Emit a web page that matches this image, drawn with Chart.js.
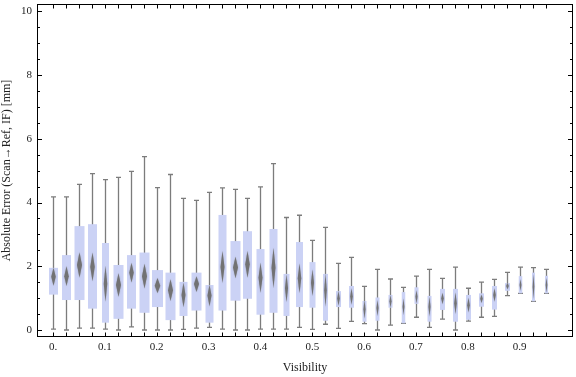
<!DOCTYPE html>
<html>
<head>
<meta charset="utf-8">
<script src="https://cdn.jsdelivr.net/npm/chart.js@4.4.1/dist/chart.umd.min.js"></script>
<style>
  html, body { margin: 0; padding: 0; background: #fff; }
</style>
</head>
<body>
<canvas id="boxChart" width="576" height="377"></canvas>
<script>
// Visibility bins (box centres)
const visibility = [0, 0.025, 0.05, 0.075, 0.1, 0.125, 0.15, 0.175, 0.2, 0.225,
    0.25, 0.275, 0.3, 0.325, 0.35, 0.375, 0.4, 0.425, 0.45, 0.475,
    0.5, 0.525, 0.55, 0.575, 0.6, 0.625, 0.65, 0.675, 0.7, 0.725,
    0.75, 0.775, 0.8, 0.825, 0.85, 0.875, 0.9, 0.925, 0.95];

// Box-whisker statistics (mm)
const whiskerLow = [0.03, 0.00, 0.06, 0.06, 0.03, 0.00, 0.10, 0.00, 0.00, 0.00,
    0.02, 0.06, 0.08, 0.03, 0.00, 0.00, 0.03, 0.03, 0.03, 0.08,
    0.02, 0.18, 0.05, 0.27, 0.20, 0.00, 0.15, 0.21, 0.40, 0.08,
    0.34, 0.00, 0.28, 0.40, 0.43, 1.08, 1.15, 0.90, 1.15];
const quartile1 = [1.11, 0.94, 0.94, 0.67, 0.23, 0.35, 0.67, 0.54, 0.72, 0.31,
    0.44, 0.61, 0.23, 0.61, 0.92, 0.98, 0.48, 0.54, 0.44, 0.72,
    0.70, 0.29, 0.72, 0.70, 0.26, 0.29, 0.70, 0.21, 0.82, 0.26,
    0.63, 0.26, 0.32, 0.73, 0.64, 1.23, 1.15, 0.90, 1.15];
const medians = [1.67, 1.69, 2.04, 1.98, 1.45, 1.41, 1.80, 1.69, 1.39, 1.25,
    1.10, 1.44, 1.08, 1.98, 1.96, 2.06, 1.64, 1.95, 1.31, 1.62,
    1.48, 1.25, 0.99, 1.05, 0.65, 0.69, 0.90, 0.73, 1.04, 0.73,
    0.99, 0.84, 0.78, 0.98, 1.10, 1.38, 1.41, 1.36, 1.41];
const quartile3 = [1.95, 2.35, 3.26, 3.32, 2.73, 2.04, 2.35, 2.43, 1.88, 1.80,
    1.51, 1.80, 1.41, 3.61, 2.79, 3.10, 2.54, 3.17, 1.76, 2.76,
    2.13, 1.76, 1.22, 1.38, 0.91, 1.02, 1.10, 1.19, 1.34, 1.07,
    1.29, 1.29, 1.10, 1.15, 1.38, 1.47, 1.69, 1.80, 1.70];
const whiskerHigh = [4.18, 4.18, 4.57, 4.91, 4.72, 4.79, 4.98, 5.44, 4.47, 4.88,
    4.13, 4.07, 4.32, 4.46, 4.41, 4.13, 4.49, 5.22, 3.53, 3.60,
    2.81, 3.22, 2.09, 2.28, 1.37, 1.90, 1.60, 1.34, 1.69, 1.90,
    1.62, 1.97, 1.31, 1.50, 1.59, 1.81, 1.97, 1.96, 1.90];
// half-height of the median confidence diamond (mm)
const medianCI = [0.28, 0.31, 0.40, 0.45, 0.56, 0.37, 0.31, 0.39, 0.24, 0.34,
    0.39, 0.25, 0.34, 0.51, 0.34, 0.42, 0.47, 0.63, 0.44, 0.47,
    0.42, 0.52, 0.23, 0.26, 0.30, 0.26, 0.20, 0.26, 0.21, 0.31,
    0.18, 0.34, 0.23, 0.13, 0.21, 0.10, 0.18, 0.39, 0.23];

const xTickValues = [0, 0.1, 0.2, 0.3, 0.4, 0.5, 0.6, 0.7, 0.8, 0.9];
const xTickLabels = ['0.', '0.1', '0.2', '0.3', '0.4', '0.5', '0.6', '0.7', '0.8', '0.9'];
const yTickValues = [0, 2, 4, 6, 8, 10];
const yTickLabels = ['0', '2', '4', '6', '8', '10'];

// drawing styles (box widths in px, per box)
const boxWidths = [9, 9, 10, 9, 7, 10, 9, 10, 11, 10, 8, 10, 8, 8, 10, 9, 8, 8, 6, 7,
    6, 5, 5, 5, 4, 4, 4, 3.5, 4, 4, 5, 5, 5, 5, 5, 5, 3.5, 3, 3];
const boxColor = 'rgb(203, 210, 245)';
const whiskerColor = '#7c7c7c';
const diamondColor = 'rgba(112, 112, 112, 0.95)';
const fontFamily = '"Liberation Serif", "Times New Roman", serif';

const boxWhiskerPlugin = {
    id: 'boxWhisker',
    afterDatasetsDraw(chart) {
        const {ctx, scales: {x, y}} = chart;
        ctx.save();
        visibility.forEach((v, i) => {
            const cx = Math.round(x.getPixelForValue(v)) + 0.5;
            const w = boxWidths[i];
            const yLo = y.getPixelForValue(whiskerLow[i]);
            const yHi = y.getPixelForValue(whiskerHigh[i]);

            // whisker + caps
            ctx.strokeStyle = whiskerColor;
            ctx.lineWidth = 1.3;
            ctx.beginPath();
            ctx.moveTo(cx, yLo);
            ctx.lineTo(cx, yHi);
            ctx.moveTo(cx - 2.5, yLo);
            ctx.lineTo(cx + 2.5, yLo);
            ctx.moveTo(cx - 2.5, yHi);
            ctx.lineTo(cx + 2.5, yHi);
            ctx.stroke();

            // box
            const yQ3 = y.getPixelForValue(quartile3[i]);
            const yQ1 = y.getPixelForValue(quartile1[i]);
            ctx.fillStyle = boxColor;
            ctx.fillRect(cx - w / 2, yQ3, w, yQ1 - yQ3);

            // median diamond
            const dw = Math.max(1.6, w * 0.5) / 2;
            const yMed = y.getPixelForValue(medians[i]);
            ctx.fillStyle = diamondColor;
            ctx.shadowColor = 'rgba(112, 112, 112, 0.6)';
            ctx.shadowBlur = 1.5;
            ctx.beginPath();
            ctx.moveTo(cx, y.getPixelForValue(medians[i] + medianCI[i]));
            ctx.lineTo(cx + dw, yMed);
            ctx.lineTo(cx, y.getPixelForValue(medians[i] - medianCI[i]));
            ctx.lineTo(cx - dw, yMed);
            ctx.closePath();
            ctx.fill();
            ctx.shadowBlur = 0;
        });
        ctx.restore();
    },
    afterDraw(chart) {
        // frame with inward ticks on all four sides
        const {ctx, chartArea: a, scales: {x, y}} = chart;
        ctx.save();
        ctx.strokeStyle = '#000';
        ctx.lineWidth = 1;
        const L = Math.round(a.left) + 0.5, R = Math.round(a.right) - 0.5;
        const T = Math.round(a.top) + 0.5, B = Math.round(a.bottom) - 0.5;
        ctx.strokeRect(L, T, R - L, B - T);
        ctx.beginPath();
        visibility.forEach(v => {
            const px = Math.round(x.getPixelForValue(v)) + 0.5;
            ctx.moveTo(px, B); ctx.lineTo(px, B - 4);
            ctx.moveTo(px, T); ctx.lineTo(px, T + 4);
        });
        for (let k = 0; k <= 20; k++) {
            const val = k * 0.5;
            const py = Math.round(y.getPixelForValue(val)) + 0.5;
            const len = (k % 4 === 0) ? 4.5 : 2.5;
            ctx.moveTo(L, py); ctx.lineTo(L + len, py);
            ctx.moveTo(R, py); ctx.lineTo(R - len, py);
        }
        ctx.stroke();
        ctx.restore();
    }
};

new Chart(document.getElementById('boxChart').getContext('2d'), {
    type: 'scatter',
    data: {
        datasets: [{
            label: 'Median',
            data: visibility.map((v, i) => ({x: v, y: medians[i]})),
            pointRadius: 0,
            pointHoverRadius: 0,
            showLine: false
        }]
    },
    options: {
        responsive: false,
        animation: false,
        devicePixelRatio: 1,
        layout: {padding: {top: 4, right: 3, left: 0, bottom: 0}},
        plugins: {
            legend: {display: false},
            tooltip: {enabled: false}
        },
        events: [],
        scales: {
            x: {
                type: 'linear',
                min: -0.031,
                max: 1.003,
                afterFit: s => { s.height = 40; s.paddingLeft = 0; s.paddingRight = 0; },
                afterBuildTicks: s => { s.ticks = xTickValues.map(v => ({value: v})); },
                grid: {display: false, drawTicks: false},
                border: {display: false},
                ticks: {
                    autoSkip: false,
                    maxRotation: 0,
                    padding: 4,
                    color: '#222',
                    font: {family: fontFamily, size: 11},
                    callback: (value, index) => xTickLabels[index]
                },
                title: {
                    display: true,
                    text: 'Visibility',
                    color: '#222',
                    padding: {top: 0, bottom: 2},
                    font: {family: fontFamily, size: 12}
                }
            },
            y: {
                type: 'linear',
                min: -0.22,
                max: 10.23,
                afterFit: s => { s.width = 37; s.paddingTop = 0; s.paddingBottom = 0; },
                afterBuildTicks: s => { s.ticks = yTickValues.map(v => ({value: v})); },
                grid: {display: false, drawTicks: false},
                border: {display: false},
                ticks: {
                    padding: 5,
                    color: '#222',
                    font: {family: fontFamily, size: 11},
                    callback: (value, index) => yTickLabels[index]
                },
                title: {
                    display: true,
                    text: 'Absolute Error (Scan\u2192Ref, IF) [mm]',
                    color: '#222',
                    padding: {top: 0, bottom: 0},
                    font: {family: fontFamily, size: 12}
                }
            }
        }
    },
    plugins: [boxWhiskerPlugin]
});
</script>
</body>
</html>
